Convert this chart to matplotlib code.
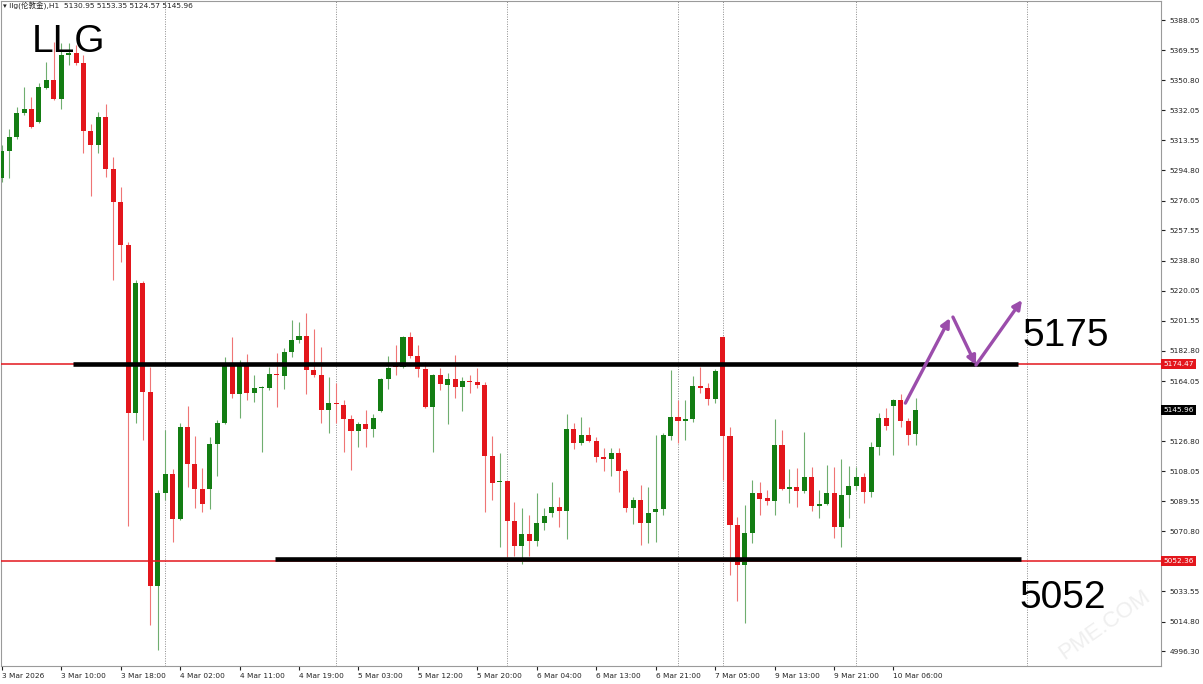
import matplotlib
matplotlib.use("Agg")
import matplotlib.pyplot as plt
import matplotlib.transforms as mtransforms

# hourly candles (bar 0 .. bar 123)
opens = [
    5290.1, 5306.9, 5315.6, 5330.5, 5333.0, 5324.9, 5346.0, 5351.0, 5339.2, 5366.5,
    5367.7, 5361.5, 5319.3, 5310.6, 5328.0, 5295.7, 5275.2, 5248.5, 5144.2, 5224.9,
    5157.3, 5036.8, 5094.6, 5106.4, 5078.4, 5135.6, 5112.6, 5097.1, 5097.1, 5125.0,
    5138.0, 5173.4, 5156.0, 5173.4, 5156.6, 5159.8, 5159.8, 5168.5, 5167.2, 5182.1,
    5189.6, 5192.0, 5170.9, 5167.8, 5146.1, 5150.5, 5149.2, 5140.5, 5133.1, 5137.4,
    5134.3, 5145.5, 5165.3, 5173.4, 5172.8, 5191.4, 5179.6, 5171.5, 5148.0, 5167.8,
    5161.6, 5165.3, 5160.4, 5164.1, 5163.5, 5161.6, 5117.5, 5101.4, 5102.0, 5077.2,
    5061.7, 5069.1, 5064.8, 5075.9, 5082.2, 5085.9, 5083.4, 5134.3, 5125.6, 5130.6,
    5126.9, 5116.9, 5115.7, 5119.4, 5108.2, 5085.3, 5090.2, 5075.9, 5082.8, 5084.6,
    5130.0, 5141.7, 5139.2, 5140.5, 5161.0, 5159.8, 5152.9, 5191.4, 5130.0, 5074.7,
    5049.9, 5069.7, 5094.6, 5091.5, 5089.6, 5124.4, 5097.1, 5098.3, 5095.8, 5104.5,
    5086.5, 5087.7, 5094.6, 5073.5, 5093.3, 5098.9, 5104.5, 5095.2, 5123.1, 5141.1,
    5148.6, 5152.3, 5139.2, 5130.95]
highs = [
    5310.6, 5320.5, 5334.2, 5346.6, 5340.4, 5349.1, 5362.1, 5374.6, 5373.9, 5373.9,
    5372.7, 5366.5, 5323.7, 5331.1, 5336.1, 5303.2, 5284.5, 5250.4, 5226.8, 5226.2,
    5172.8, 5096.4, 5133.7, 5109.5, 5138.0, 5148.6, 5130.0, 5110.1, 5129.3, 5139.9,
    5179.0, 5191.4, 5177.1, 5180.9, 5167.8, 5161.0, 5172.8, 5181.5, 5184.6, 5202.0,
    5200.7, 5206.3, 5196.4, 5185.2, 5166.6, 5162.9, 5152.3, 5143.0, 5138.7, 5146.1,
    5143.6, 5165.9, 5179.6, 5186.5, 5192.0, 5194.5, 5186.5, 5175.9, 5168.5, 5172.2,
    5169.1, 5180.2, 5166.6, 5167.8, 5172.2, 5163.5, 5130.0, 5119.4, 5102.6, 5089.0,
    5085.3, 5080.9, 5094.6, 5085.3, 5101.4, 5092.1, 5143.6, 5138.0, 5141.7, 5135.6,
    5129.3, 5122.5, 5122.5, 5122.5, 5109.5, 5092.1, 5099.5, 5098.3, 5130.6, 5131.8,
    5170.9, 5152.3, 5152.3, 5167.2, 5172.8, 5162.9, 5171.5, 5192.0, 5135.6, 5079.7,
    5087.1, 5102.6, 5101.4, 5096.4, 5140.5, 5133.7, 5109.5, 5110.1, 5132.4, 5110.7,
    5096.4, 5111.9, 5110.7, 5115.7, 5111.3, 5110.7, 5107.0, 5126.2, 5144.2, 5147.4,
    5152.9, 5156.0, 5141.1, 5153.35]
lows = [
    5287.6, 5290.1, 5314.3, 5329.2, 5321.2, 5324.3, 5345.4, 5338.6, 5333.0, 5360.3,
    5360.3, 5305.6, 5279.0, 5305.6, 5290.7, 5226.8, 5238.0, 5074.1, 5138.0, 5127.5,
    5012.6, 4996.9, 5090.2, 5064.2, 5077.8, 5098.3, 5085.3, 5082.8, 5084.6, 5105.1,
    5137.4, 5153.5, 5141.1, 5152.3, 5151.1, 5120.0, 5158.5, 5148.0, 5159.1, 5179.0,
    5187.7, 5156.0, 5166.6, 5138.0, 5131.8, 5138.0, 5120.0, 5108.8, 5123.1, 5123.1,
    5129.3, 5144.9, 5159.1, 5167.8, 5172.2, 5178.4, 5166.6, 5147.4, 5120.0, 5158.5,
    5137.4, 5153.5, 5145.5, 5156.6, 5159.8, 5082.8, 5090.2, 5061.1, 5054.9, 5055.5,
    5050.5, 5055.5, 5061.7, 5071.6, 5079.7, 5073.5, 5066.0, 5121.9, 5124.4, 5126.2,
    5113.8, 5108.2, 5105.1, 5095.2, 5082.8, 5075.3, 5062.3, 5063.5, 5064.2, 5080.9,
    5127.5, 5125.6, 5127.5, 5138.7, 5156.6, 5149.2, 5150.5, 5102.6, 5043.7, 5027.5,
    5013.9, 5063.5, 5080.9, 5087.1, 5080.9, 5096.4, 5088.4, 5085.9, 5094.6, 5083.4,
    5079.1, 5087.1, 5066.6, 5061.1, 5079.1, 5096.4, 5088.4, 5092.1, 5118.2, 5133.7,
    5118.2, 5135.6, 5124.4, 5124.57]
closes = [
    5306.9, 5315.6, 5330.5, 5333.0, 5321.8, 5346.6, 5351.0, 5339.2, 5366.5, 5367.7,
    5361.5, 5319.3, 5310.6, 5328.0, 5295.7, 5275.2, 5248.5, 5144.2, 5224.9, 5157.3,
    5036.8, 5094.6, 5106.4, 5078.4, 5135.6, 5112.6, 5097.1, 5087.7, 5125.0, 5138.0,
    5173.4, 5156.0, 5173.4, 5156.6, 5159.8, 5160.4, 5168.5, 5167.8, 5182.1, 5189.6,
    5192.0, 5170.9, 5167.8, 5146.1, 5150.5, 5149.8, 5140.5, 5133.1, 5137.4, 5134.3,
    5141.1, 5165.3, 5172.2, 5172.8, 5191.4, 5179.6, 5171.5, 5148.0, 5167.8, 5162.2,
    5165.3, 5160.4, 5164.1, 5163.5, 5161.6, 5117.5, 5100.8, 5102.0, 5077.2, 5061.7,
    5069.1, 5064.8, 5075.9, 5080.3, 5085.9, 5083.4, 5134.3, 5125.6, 5130.6, 5126.9,
    5116.9, 5115.7, 5119.4, 5108.2, 5085.3, 5090.2, 5075.9, 5082.2, 5084.6, 5130.6,
    5141.7, 5139.2, 5140.5, 5161.0, 5159.8, 5152.9, 5170.3, 5130.0, 5074.7, 5049.9,
    5069.7, 5094.6, 5090.9, 5089.6, 5124.4, 5097.1, 5098.3, 5095.8, 5104.5, 5086.5,
    5087.7, 5094.6, 5073.5, 5093.3, 5098.9, 5104.5, 5095.2, 5123.1, 5141.1, 5136.2,
    5152.3, 5139.2, 5130.6, 5145.96]

# time axis: a label every 8 bars
time_labels = ['3 Mar 2026', '3 Mar 10:00', '3 Mar 18:00', '4 Mar 02:00',
               '4 Mar 11:00', '4 Mar 19:00', '5 Mar 03:00', '5 Mar 12:00',
               '5 Mar 20:00', '6 Mar 04:00', '6 Mar 13:00', '6 Mar 21:00',
               '7 Mar 05:00', '9 Mar 13:00', '9 Mar 21:00', '10 Mar 06:00']
grid_bars = [22, 45, 68, 91, 97, 115, 138]

price_ticks = [5388.05, 5369.55, 5350.80, 5332.05, 5313.55, 5294.80, 5276.05,
               5257.55, 5238.80, 5220.05, 5201.55, 5182.80, 5164.05, 5126.80,
               5108.05, 5089.55, 5070.80, 5033.55, 5014.80, 4996.30]

# levels and the drawn path
resist = 5174.47
support = 5052.36
last_price = 5145.96
path_x = [121.6, 127.6, 131.1, 137.3]
path_y = [5150.4, 5203.2, 5174.0, 5214.4]

RED = '#e3161c'
GREEN = '#137d13'
PURPLE = '#9b4dab'

fig = plt.figure(figsize=(12.03, 6.84), dpi=100)
ax = fig.add_axes([1/1203, 18/684, 1160/1203, 665/684])
ax.set_xlim(-0.1, 156.0)
ax.set_ylim(4987.2, 5400.0)

for b in grid_bars:
    ax.axvline(b, color='#8c8c8c', ls=(0, (1, 1.5)), lw=0.7, zorder=0)

# candles
for i in range(len(opens)):
    o, h, l, c = opens[i], highs[i], lows[i], closes[i]
    up = c >= o
    body = GREEN if up else RED
    wick = '#6fae6f' if up else '#ef7575'
    ax.vlines(i, l, h, color=wick, lw=0.8, zorder=2)
    ax.bar(i, max(abs(c - o), 0.7), bottom=min(o, c), width=0.68,
           color=body, linewidth=0, zorder=3)

# level lines
ax.axhline(resist, color=RED, lw=1.1, zorder=4)
ax.axhline(support, color=RED, lw=1.1, zorder=4)
ax.plot([9.6, 136.8], [5174.4, 5174.4], color='black', lw=3.3,
        solid_capstyle='butt', zorder=5)
ax.plot([36.8, 137.1], [5053.6, 5053.6], color='black', lw=3.3,
        solid_capstyle='butt', zorder=5)

# purple arrows
for k in range(len(path_x) - 1):
    x0, y0 = path_x[k], path_y[k]
    if k == 1:
        x0, y0 = x0 + 0.4, y0 + 0.6
    ax.annotate('', xy=(path_x[k + 1], path_y[k + 1]), xytext=(x0, y0),
                arrowprops=dict(arrowstyle='-|>', color=PURPLE, lw=2.4,
                                mutation_scale=13, shrinkA=0, shrinkB=0),
                zorder=6)

# big labels
ax.text(137.3, 5186.0, '5175', fontsize=28, family='Liberation Sans',
        va='baseline', ha='left', color='black', zorder=7)
ax.text(137.0, 5023.5, '5052', fontsize=28, family='Liberation Sans',
        va='baseline', ha='left', color='black', zorder=7)
fig.text(32/1203, 1 - 52/684, 'LLG', fontsize=28, family='Liberation Sans',
         va='baseline', ha='left', color='black')

# header line
fig.text(3/1203, 1 - 9/684, '\u25be llg(伦敦金),H1  5130.95 5153.35 5124.57 5145.96',
         fontsize=5.4, family=['DejaVu Sans', 'Noto Sans CJK SC'],
         va='baseline', ha='left', color='#222222')

# watermark
fig.text(1105/1203, 1 - 625/684, 'PME.COM', fontsize=16, rotation=35,
         color='#efefef', ha='center', va='center', family='Liberation Sans',
         zorder=0)

# axes styling
for s in ax.spines.values():
    s.set_color('#9a9a9a')
    s.set_linewidth(0.8)

ax.yaxis.tick_right()
ax.set_yticks(price_ticks)
ax.set_yticklabels([f'{p:.2f}' for p in price_ticks])
ax.tick_params(axis='y', direction='out', length=3, pad=3, labelsize=5.3,
               colors='#222222')
ax.set_xticks(range(0, 8 * len(time_labels), 8))
ax.set_xticklabels(time_labels, ha='left')
ax.tick_params(axis='x', direction='out', length=3, pad=2, labelsize=5.3,
               colors='#222222')

# price tags on the right axis
blend = mtransforms.blended_transform_factory(ax.transAxes, ax.transData)
for val, col in [(resist, RED), (support, RED), (last_price, 'black')]:
    ax.text(1.002, val, f'{val:.2f}', transform=blend, ha='left', va='center',
            fontsize=5.3, color='white', clip_on=False,
            bbox=dict(boxstyle='square,pad=0.25', fc=col, ec='none'))

fig.savefig('out.png', dpi=100)
